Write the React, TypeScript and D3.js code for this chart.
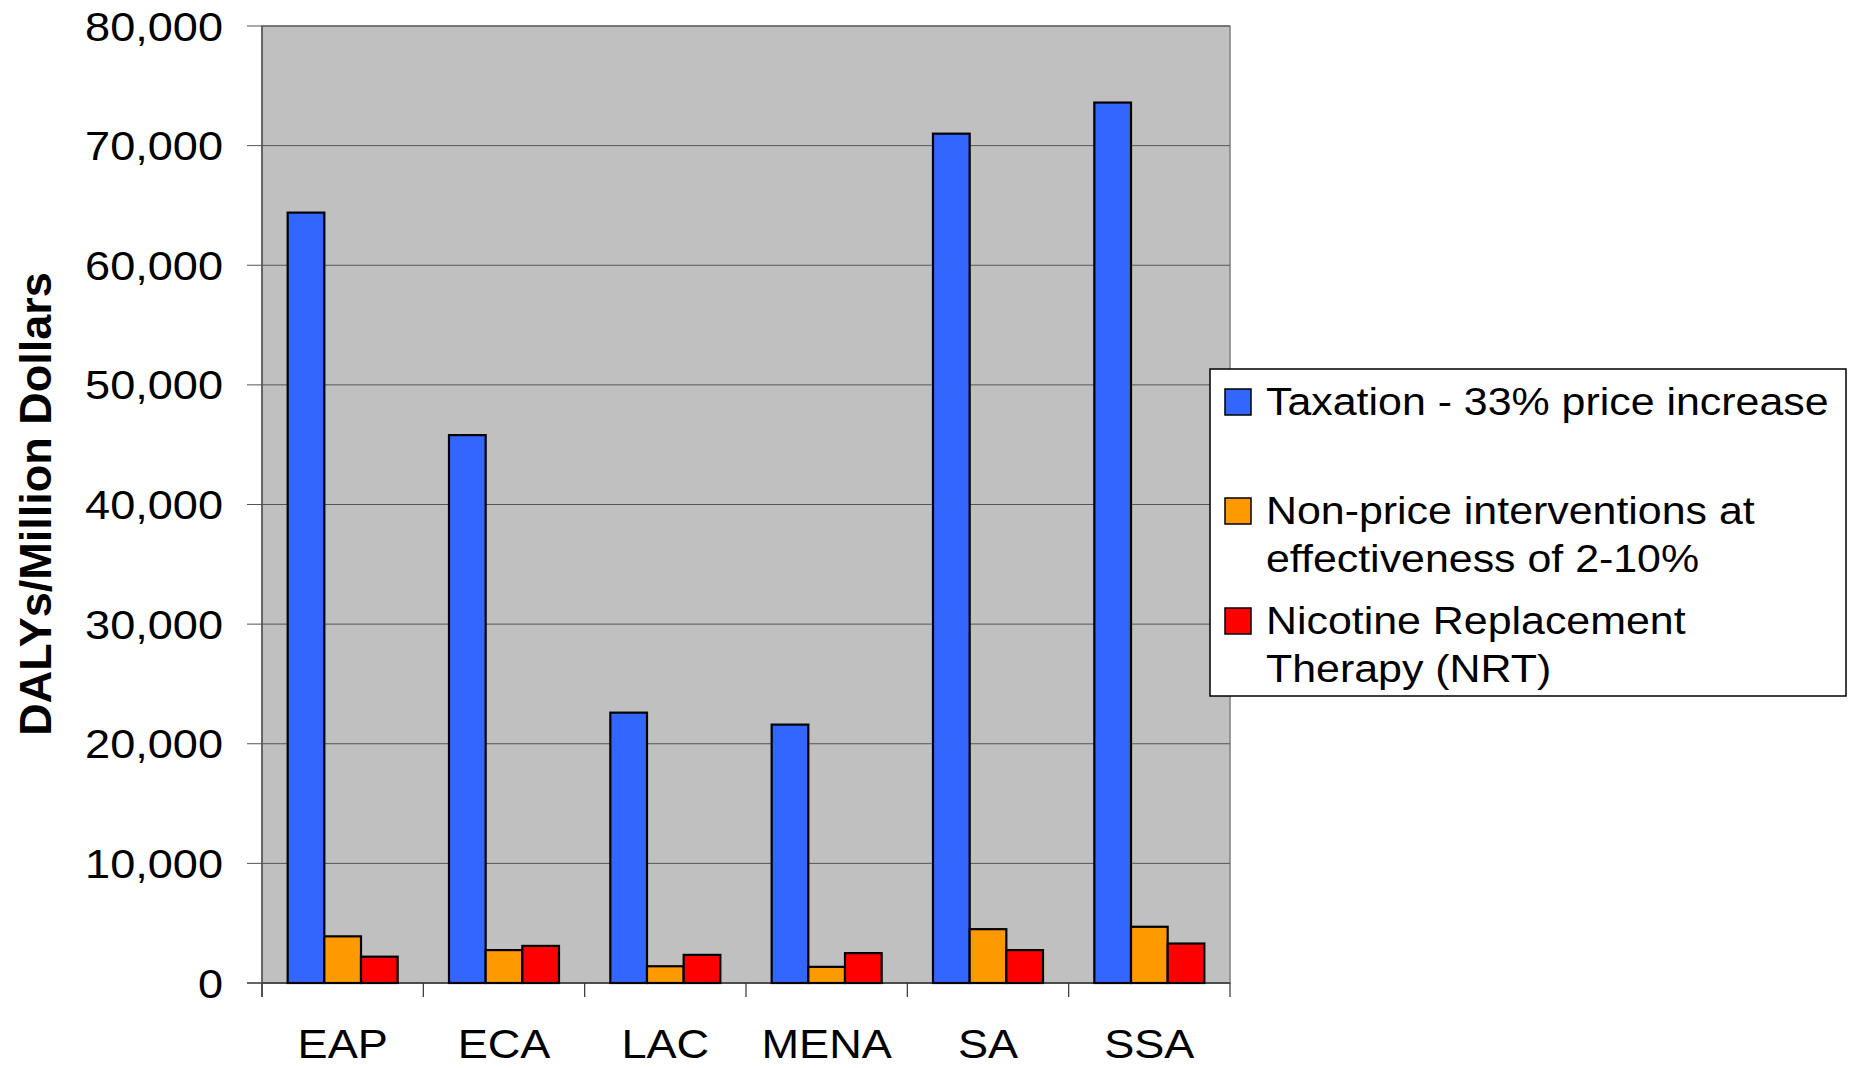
import { useEffect } from "react";
import * as d3 from "d3";

const regions = ["EAP", "ECA", "LAC", "MENA", "SA", "SSA"];
const seriesKeys = ["tax", "nonPrice", "nrt"];
const taxation = [64400, 45800, 22600, 21600, 71000, 73600];
const nonPrice = [3900, 2750, 1400, 1350, 4500, 4700];
const nrt = [2200, 3100, 2350, 2500, 2750, 3300];
const yTicks = [0, 10000, 20000, 30000, 40000, 50000, 60000, 70000, 80000];
const legendLines = [
  ["Taxation - 33% price increase"],
  ["Non-price interventions at", "effectiveness of 2-10%"],
  ["Nicotine Replacement", "Therapy (NRT)"],
];

const colors = ["#3366ff", "#ff9900", "#ff0000"];
const FONT = "'Liberation Sans', Arial, sans-serif";
const SX = 1.1; // reference text is a bit stretched horizontally

const W = 1850;
const H = 1068;
const plot = { left: 262, right: 1230, top: 26, bottom: 983 };

function App() {
  useEffect(() => {
    document.body.style.margin = "0";
  }, []);

  const x0 = d3
    .scaleBand()
    .domain(regions)
    .range([plot.left, plot.right])
    .paddingInner(0)
    .paddingOuter(0);

  const x1 = d3
    .scaleBand()
    .domain(seriesKeys)
    .range([0, x0.bandwidth()])
    .paddingInner(0)
    .paddingOuter(0.7);

  const y = d3.scaleLinear().domain([0, 80000]).range([plot.bottom, plot.top]);
  const fmt = d3.format(",");

  const values = [taxation, nonPrice, nrt];

  // category boundaries for x ticks
  const xTickPos = regions.map((r) => x0(r)).concat([plot.right]);

  return (
    <svg width={W} height={H} style={{ display: "block", background: "#fff" }}>
      {/* plot background */}
      <rect
        x={plot.left}
        y={plot.top}
        width={plot.right - plot.left}
        height={plot.bottom - plot.top}
        fill="#c0c0c0"
        stroke="#808080"
        strokeWidth={1.5}
      />

      {/* gridlines + y ticks */}
      {yTicks.map((t) => (
        <g key={t}>
          <line
            x1={plot.left - 15}
            x2={plot.right}
            y1={y(t)}
            y2={y(t)}
            stroke={t === 0 ? "#333" : "#555"}
            strokeWidth={t === 0 ? 1.5 : 1}
          />
          <text
            transform={`translate(223,${y(t) + 14.5}) scale(${SX},1)`}
            textAnchor="end"
            fontFamily={FONT}
            fontSize={41}
            fill="#000"
          >
            {fmt(t)}
          </text>
        </g>
      ))}

      {/* y axis line */}
      <line x1={plot.left} x2={plot.left} y1={plot.top} y2={plot.bottom + 14} stroke="#555" strokeWidth={1.5} />

      {/* x ticks */}
      {xTickPos.map((p, i) => (
        <line key={i} x1={p} x2={p} y1={plot.bottom} y2={plot.bottom + 14} stroke="#333" strokeWidth={1.2} />
      ))}

      {/* bars */}
      {seriesKeys.map((k, si) => (
        <g key={k} fill={colors[si]} stroke="#000" strokeWidth={2.2}>
          {regions.map((r, ri) => (
            <rect
              key={r}
              x={(x0(r) as number) + (x1(k) as number)}
              y={y(values[si][ri])}
              width={x1.bandwidth()}
              height={plot.bottom - y(values[si][ri])}
            />
          ))}
        </g>
      ))}

      {/* category labels */}
      {regions.map((r) => (
        <text
          key={r}
          transform={`translate(${(x0(r) as number) + x0.bandwidth() / 2},1058) scale(${SX},1)`}
          textAnchor="middle"
          fontFamily={FONT}
          fontSize={41}
        >
          {r}
        </text>
      ))}

      {/* y axis title */}
      <text
        transform="translate(51,504) rotate(-90)"
        textAnchor="middle"
        fontFamily={FONT}
        fontWeight="bold"
        fontSize={45}
      >
        DALYs/Million Dollars
      </text>

      {/* legend */}
      <rect x={1210} y={369} width={636} height={327} fill="#fff" stroke="#000" strokeWidth={1.5} />
      {legendLines.map((lines, i) => {
        const base = [415, 524, 634][i];
        return (
          <g key={i}>
            <rect x={1225} y={base - 26} width={26} height={26} fill={colors[i]} stroke="#000" strokeWidth={1.5} />
            {lines.map((ln, j) => (
              <text
                key={j}
                transform={`translate(1266,${base + j * 48}) scale(${SX},1)`}
                fontFamily={FONT}
                fontSize={39}
              >
                {ln}
              </text>
            ))}
          </g>
        );
      })}
    </svg>
  );
}

export default App;
